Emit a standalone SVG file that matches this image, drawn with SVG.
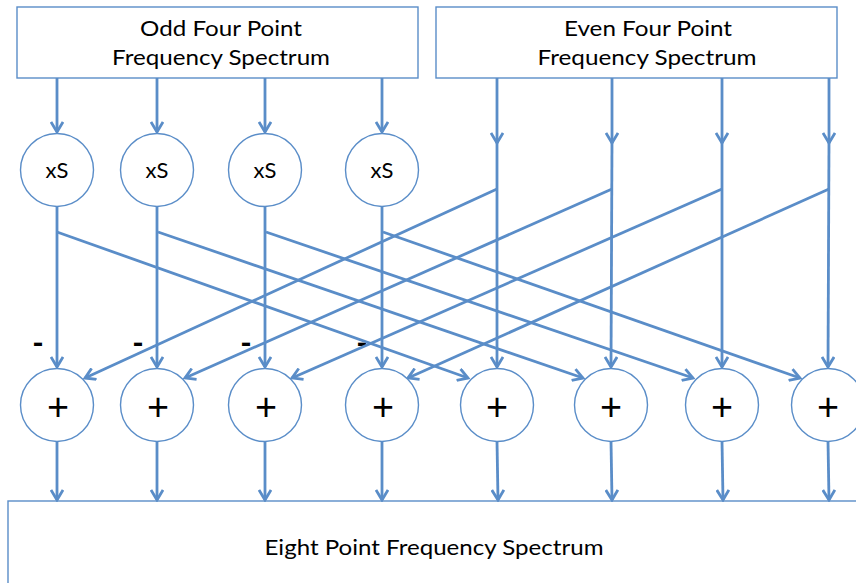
<svg xmlns="http://www.w3.org/2000/svg" width="856" height="583" viewBox="0 0 856 583">
<style>
.box{fill:#fff;stroke:#5A8DC8;stroke-width:1.4}
.node{fill:#fff;stroke:#5A8DC8;stroke-width:1.4}
.ln{fill:none;stroke:#5A8DC8;stroke-width:2.8;marker-end:url(#ah)}
.t{font-family:Lato,"Open Sans","Liberation Sans",sans-serif;fill:#000;text-anchor:middle}
.big{font-size:22px}
.xs{font-size:22px}
.plus{font-size:38px}
.minus{font-size:44px}
</style>
<defs>
<marker id="ah" markerUnits="userSpaceOnUse" markerWidth="14" markerHeight="14" viewBox="0 0 14 14" refX="12" refY="7" orient="auto">
<path d="M2,1 L12,7 L2,13" fill="none" stroke="#5A8DC8" stroke-width="2.8" stroke-linejoin="miter"/>
</marker>
</defs>
<rect width="856" height="583" fill="#fff"/>

<g id="odd-box">
<rect class="box" x="17" y="7" width="401" height="71"/>
<text class="t big" x="221" y="36" textLength="162" lengthAdjust="spacingAndGlyphs">Odd Four Point</text>
<text class="t big" x="221" y="65" textLength="218" lengthAdjust="spacingAndGlyphs">Frequency Spectrum</text>
</g>
<g id="even-box">
<rect class="box" x="436" y="7" width="401" height="71"/>
<text class="t big" x="648" y="36" textLength="168" lengthAdjust="spacingAndGlyphs">Even Four Point</text>
<text class="t big" x="647" y="65" textLength="219" lengthAdjust="spacingAndGlyphs">Frequency Spectrum</text>
</g>
<g id="out-box">
<rect class="box" x="8" y="501" width="900" height="120"/>
<text class="t big" x="434" y="555" textLength="339" lengthAdjust="spacingAndGlyphs">Eight Point Frequency Spectrum</text>
</g>

<g id="minus-signs">
<text class="t minus" x="38" y="358" textLength="12" lengthAdjust="spacingAndGlyphs">-</text>
<text class="t minus" x="138" y="358" textLength="12" lengthAdjust="spacingAndGlyphs">-</text>
<text class="t minus" x="246" y="358" textLength="12" lengthAdjust="spacingAndGlyphs">-</text>
<text class="t minus" x="362" y="358" textLength="12" lengthAdjust="spacingAndGlyphs">-</text>
</g>

<g id="connectors">
<line class="ln" x1="57" y1="78" x2="57" y2="132"/>
<line class="ln" x1="157" y1="78" x2="157" y2="132"/>
<line class="ln" x1="265" y1="78" x2="265" y2="132"/>
<line class="ln" x1="382" y1="78" x2="382" y2="132"/>

<line class="ln" x1="57" y1="207" x2="57" y2="367"/>
<line class="ln" x1="157" y1="207" x2="157" y2="367"/>
<line class="ln" x1="265" y1="207" x2="265" y2="367"/>
<line class="ln" x1="382" y1="207" x2="382" y2="367"/>

<line class="ln" x1="497" y1="78" x2="497" y2="143"/>
<line class="ln" x1="612" y1="78" x2="612" y2="143"/>
<line class="ln" x1="722" y1="78" x2="722" y2="143"/>
<line class="ln" x1="829" y1="78" x2="829" y2="143"/>
<line class="ln" x1="497" y1="141" x2="497" y2="367"/>
<line class="ln" x1="612" y1="141" x2="611" y2="367"/>
<line class="ln" x1="722" y1="141" x2="722" y2="367"/>
<line class="ln" x1="829" y1="141" x2="828" y2="367"/>

<line class="ln" x1="57" y1="232" x2="468" y2="378"/>
<line class="ln" x1="158" y1="232" x2="583" y2="378"/>
<line class="ln" x1="266" y1="232" x2="693" y2="378"/>
<line class="ln" x1="383" y1="232" x2="800" y2="378"/>

<line class="ln" x1="497" y1="189" x2="85" y2="378"/>
<line class="ln" x1="612" y1="189" x2="185" y2="378"/>
<line class="ln" x1="722" y1="189" x2="292" y2="378"/>
<line class="ln" x1="829" y1="189" x2="408" y2="378"/>

<line class="ln" x1="57" y1="441" x2="57" y2="500"/>
<line class="ln" x1="157" y1="441" x2="157" y2="500"/>
<line class="ln" x1="265" y1="441" x2="265" y2="500"/>
<line class="ln" x1="382" y1="441" x2="382" y2="500"/>
<line class="ln" x1="497" y1="441" x2="498" y2="500"/>
<line class="ln" x1="611" y1="441" x2="612" y2="500"/>
<line class="ln" x1="722" y1="441" x2="723" y2="500"/>
<line class="ln" x1="828" y1="441" x2="829" y2="500"/>
</g>

<g id="xs1"><circle class="node" cx="57" cy="170" r="36.5"/><text class="t xs" x="57" y="178">xS</text></g>
<g id="xs2"><circle class="node" cx="157" cy="170" r="36.5"/><text class="t xs" x="157" y="178">xS</text></g>
<g id="xs3"><circle class="node" cx="265" cy="170" r="36.5"/><text class="t xs" x="265" y="178">xS</text></g>
<g id="xs4"><circle class="node" cx="382" cy="170" r="36.5"/><text class="t xs" x="382" y="178">xS</text></g>

<g id="add1"><circle class="node" cx="57" cy="405" r="36.5"/><text class="t plus" x="58" y="420">+</text></g>
<g id="add2"><circle class="node" cx="157" cy="405" r="36.5"/><text class="t plus" x="158" y="420">+</text></g>
<g id="add3"><circle class="node" cx="265" cy="405" r="36.5"/><text class="t plus" x="266" y="420">+</text></g>
<g id="add4"><circle class="node" cx="382" cy="405" r="36.5"/><text class="t plus" x="383" y="420">+</text></g>
<g id="add5"><circle class="node" cx="497" cy="405" r="36.5"/><text class="t plus" x="497" y="420">+</text></g>
<g id="add6"><circle class="node" cx="611" cy="405" r="36.5"/><text class="t plus" x="611" y="420">+</text></g>
<g id="add7"><circle class="node" cx="722" cy="405" r="36.5"/><text class="t plus" x="722" y="420">+</text></g>
<g id="add8"><circle class="node" cx="828" cy="405" r="36.5"/><text class="t plus" x="828" y="420">+</text></g>
</svg>
